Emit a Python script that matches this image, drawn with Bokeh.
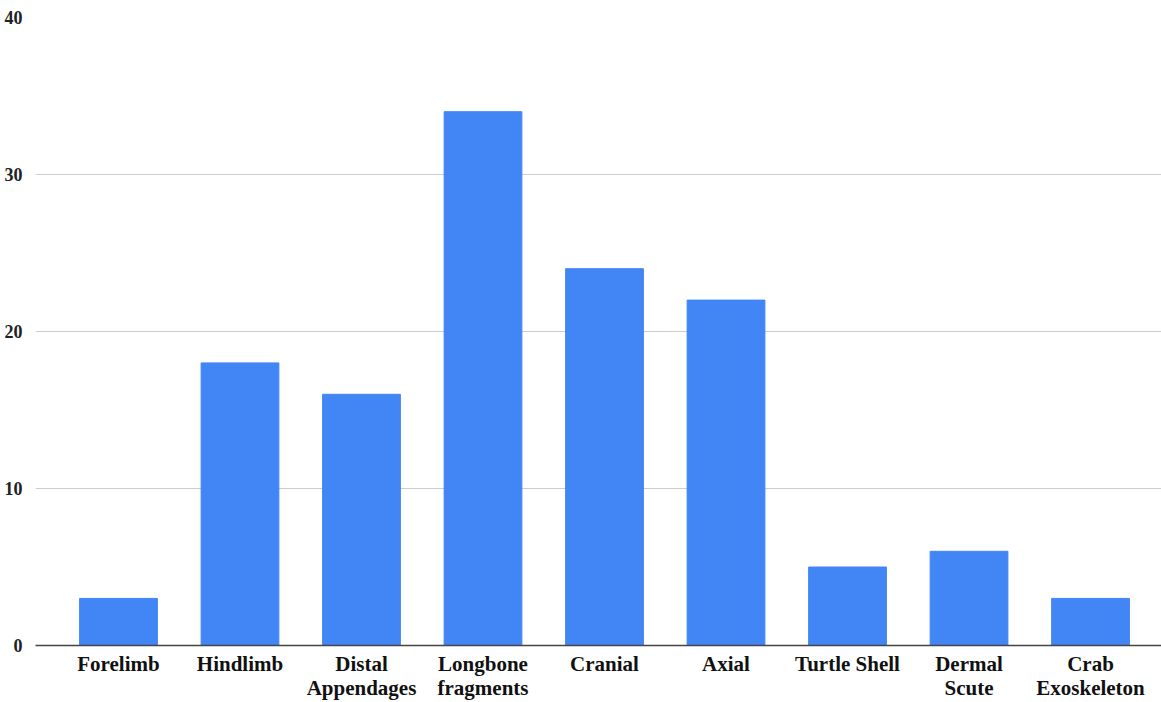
from bokeh.plotting import figure
from bokeh.models import Range1d, FixedTicker, ColumnDataSource
from bokeh.embed import file_html
from bokeh.resources import INLINE

categories = ["Forelimb", "Hindlimb", "Distal\nAppendages", "Longbone\nfragments",
              "Cranial", "Axial", "Turtle Shell", "Dermal\nScute", "Crab\nExoskeleton"]
counts = [3, 18, 16, 34, 24, 22, 5, 6, 3]
y_ticks = [0, 10, 20, 30, 40]

xs = list(range(len(categories)))
src = ColumnDataSource(dict(x=xs, top=counts))

FONT = "Times New Roman"

p = figure(width=1161, height=702, output_backend="svg", toolbar_location=None,
           x_range=Range1d(-0.683, len(categories) - 1 + 0.584), y_range=Range1d(0, 40),
           min_border_left=35, min_border_right=0, min_border_top=17, min_border_bottom=57)
p.outline_line_color = None
p.background_fill_color = "white"
p.border_fill_color = "white"

p.vbar(x="x", top="top", width=0.64, bottom=0, source=src, color="#4285F4")

p.xgrid.grid_line_color = None
p.ygrid.grid_line_color = "#cccccc"
p.ygrid.grid_line_width = 1
p.yaxis.ticker = FixedTicker(ticks=y_ticks)
p.yaxis.axis_line_color = None
p.yaxis.major_tick_line_color = None
p.yaxis.minor_tick_line_color = None
p.yaxis.major_label_text_font = FONT
p.yaxis.major_label_text_font_style = "bold"
p.yaxis.major_label_text_font_size = "18px"
p.yaxis.major_label_text_color = "#222222"
p.yaxis.major_label_standoff = 7

p.xaxis.ticker = FixedTicker(ticks=xs)
p.xaxis.major_label_overrides = {i: c for i, c in enumerate(categories)}
p.xaxis.axis_line_color = "#444444"
p.xaxis.axis_line_width = 1.5
p.xaxis.major_tick_line_color = None
p.xaxis.minor_tick_line_color = None
p.xaxis.major_label_text_font = FONT
p.xaxis.major_label_text_font_style = "bold"
p.xaxis.major_label_text_font_size = "21px"
p.xaxis.major_label_text_line_height = 1.0
p.xaxis.major_label_text_color = "#111111"
p.xaxis.major_label_standoff = 0

open("out.html", "w").write(file_html(p, INLINE))
